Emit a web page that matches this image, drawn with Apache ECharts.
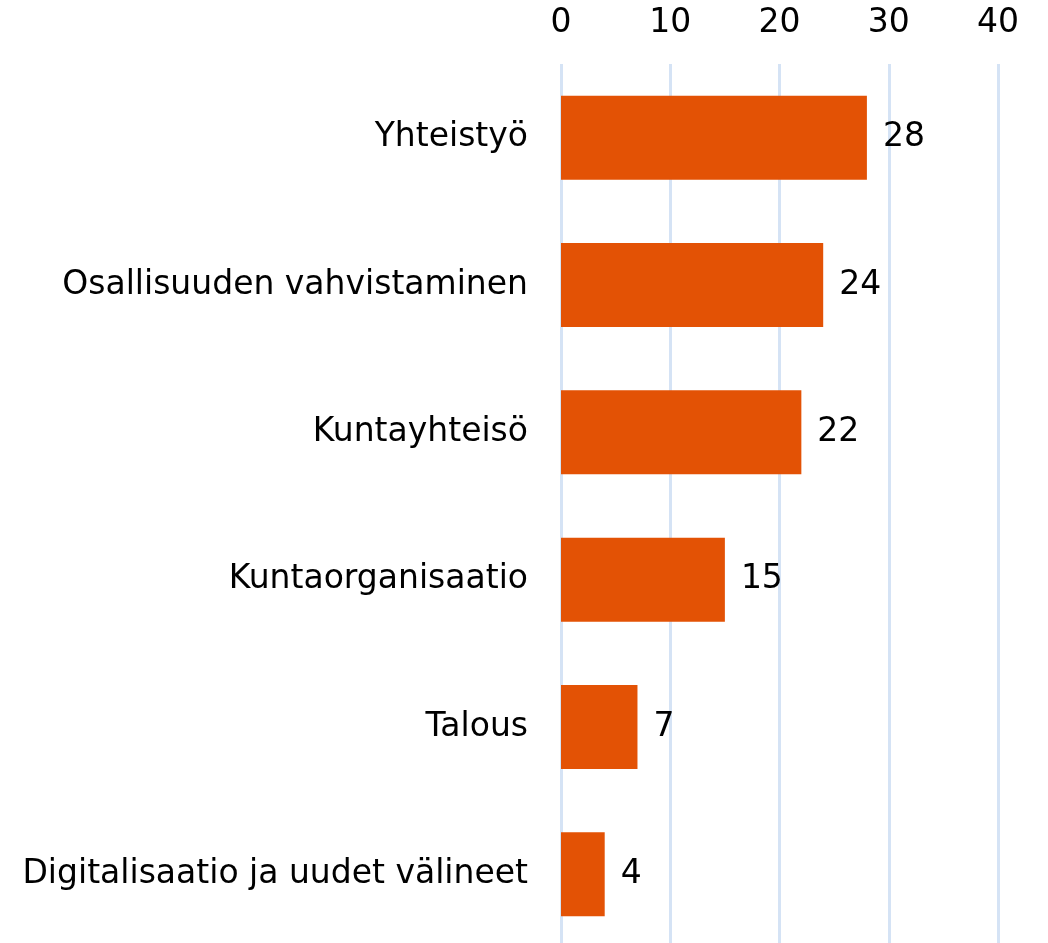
<!DOCTYPE html>
<html>
<head>
<meta charset="utf-8">
<script src="https://cdn.jsdelivr.net/npm/echarts@6/dist/echarts.min.js"></script>
<style>
  html, body { margin: 0; padding: 0; background: #fff; }
  #chart { width: 1048px; height: 943px; }
</style>
</head>
<body>
<div id="chart"></div>
<script>
var categories = ['Yhteistyö', 'Osallisuuden vahvistaminen', 'Kuntayhteisö', 'Kuntaorganisaatio', 'Talous', 'Digitalisaatio ja uudet välineet'];
var values = [28, 24, 22, 15, 7, 4];
var xTicks = [0, 10, 20, 30, 40];

var chart = echarts.init(document.getElementById('chart'));
var font = '"DejaVu Sans", sans-serif';

chart.setOption({
    animation: false,
    grid: { left: 561, width: 437, top: 64, height: 884, outerBoundsMode: 'none', containLabel: false },
    xAxis: {
        type: 'value',
        position: 'top',
        min: xTicks[0],
        max: xTicks[xTicks.length - 1],
        interval: 10,
        axisLine: { show: false },
        axisTick: { show: false },
        axisLabel: { color: '#000', fontFamily: font, fontSize: 33, margin: 24 },
        splitLine: { show: true, lineStyle: { color: '#d5e3f5', width: 3 } }
    },
    yAxis: {
        type: 'category',
        inverse: true,
        data: categories,
        axisLine: { show: false },
        axisTick: { show: false },
        axisLabel: { color: '#000', fontFamily: font, fontSize: 33, margin: 33 }
    },
    series: [{
        type: 'bar',
        data: values,
        barCategoryGap: '43%',
        itemStyle: { color: '#e35205' },
        label: { show: true, position: 'right', distance: 16, color: '#000', fontFamily: font, fontSize: 33 }
    }]
});
</script>
</body>
</html>
